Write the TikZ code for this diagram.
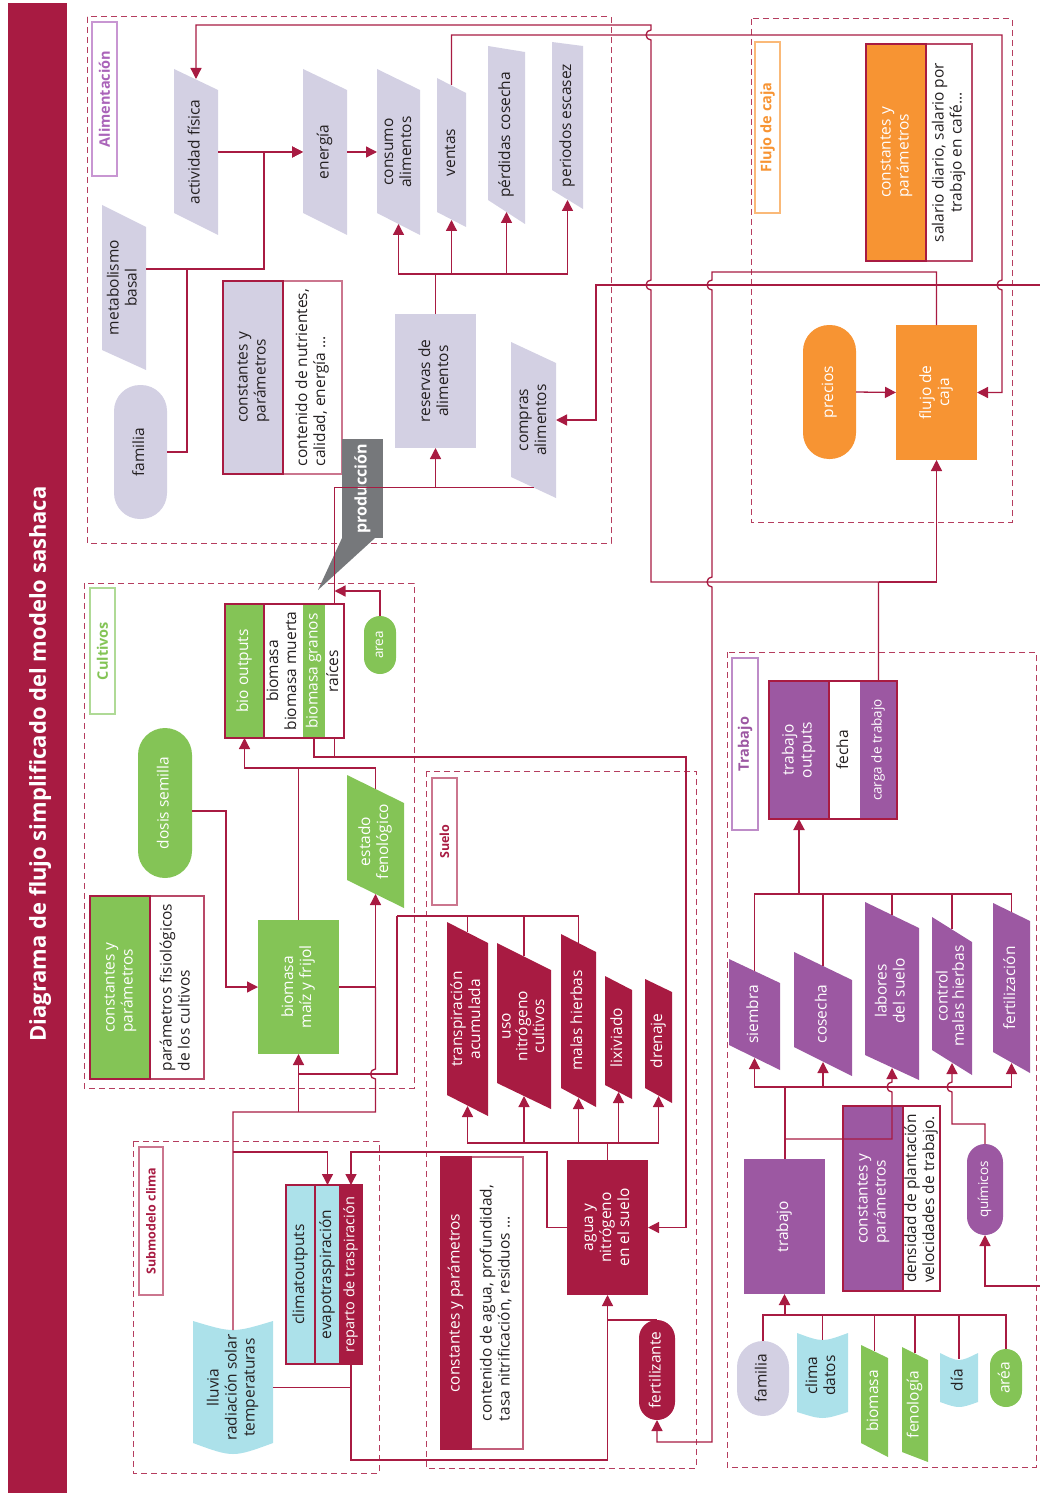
\documentclass[tikz,border=0pt]{standalone}
\usepackage{fontspec}
\setmainfont{Open Sans}
\usepackage{graphicx}
\usetikzlibrary{arrows.meta}
\definecolor{crimson}{RGB}{168,27,66}
\definecolor{lav}{RGB}{211,208,227}
\definecolor{grn}{RGB}{132,196,86}
\definecolor{lblue}{RGB}{172,225,234}
\definecolor{orng}{RGB}{247,148,51}
\definecolor{purp}{RGB}{156,88,162}
\definecolor{callgray}{RGB}{118,120,123}
\definecolor{ink}{RGB}{35,31,32}
\definecolor{alimline}{RGB}{200,150,210}
\definecolor{alimtext}{RGB}{170,100,185}
\definecolor{cultline}{RGB}{175,218,150}
\definecolor{flujline}{RGB}{250,185,120}
\definecolor{trabline}{RGB}{190,140,200}

\newcommand{\vtext}[1]{\rotatebox{90}{\begin{tabular}{@{}c@{}}#1\end{tabular}}}
\newcommand{\vtextl}[1]{\rotatebox{90}{\begin{tabular}{@{}l@{}}#1\end{tabular}}}

\tikzset{
  base/.style={inner sep=0pt, outer sep=0pt, text=ink, font=\fontsize{15.5}{18}\selectfont},
  box/.style={base, rectangle},
  para/.style n args={3}{base, rectangle, path picture={
    \fill[#1] (path picture bounding box.north west)
      -- ([yshift=-#2pt]path picture bounding box.north east)
      -- (path picture bounding box.south east)
      -- ([yshift=#3pt]path picture bounding box.south west) -- cycle;}},
  doc/.style n args={3}{base, rectangle, path picture={
    \fill[#1] (path picture bounding box.north west)
      .. controls ([yshift={-#2pt*4/3}]path picture bounding box.north) .. (path picture bounding box.north east)
      -- ([yshift=#3pt]path picture bounding box.south east)
      .. controls ([yshift={-#3pt/3}]path picture bounding box.south) .. ([yshift=#3pt]path picture bounding box.south west)
      -- cycle;}},
  tag/.style 2 args={base, draw=#1, text=#2, line width=1.2pt, font=\fontsize{14.5}{17}\selectfont\bfseries},
  dashbox/.style={draw=crimson!85, line width=1pt, dash pattern=on 6pt off 4pt},
  small/.style={font=\fontsize{13.5}{16}\selectfont}
}

\begin{document}
\begin{tikzpicture}[x=1pt, y=-1pt, >={Triangle[length=11pt,width=11pt]}, line width=1.3pt, draw=crimson]
  \useasboundingbox (0,0) rectangle (1040,1495);

  % Title bar
  \node[box, fill=crimson, minimum width=59pt, minimum height=1490pt] (bar) at (37.5,748) {};
  \node[base, text=white, font=\fontsize{22}{26}\selectfont\bfseries] (title) at (40,764)
    {\rotatebox{90}{Diagrama de flujo simplificado del modelo sashaca}};

  % Dashed frames of the submodels
  \draw[dashbox] (87,17) rectangle (611,543);
  \draw[dashbox] (84,583) rectangle (414,1088);
  \draw[dashbox] (751,19) rectangle (1012,522);
  \draw[dashbox] (426,771) rectangle (696,1468);
  \draw[dashbox] (133,1141) rectangle (379,1473);
  \draw[dashbox] (727,652) rectangle (1036,1467);

  % Frame labels
  \node[tag={alimline}{alimtext}, minimum width=25pt, minimum height=154pt] (tagAlim) at (104.5,99) {\rotatebox{90}{Alimentación}};
  \node[tag={cultline}{grn}, minimum width=25pt, minimum height=126pt] (tagCult) at (102.5,651) {\rotatebox{90}{Cultivos}};
  \node[tag={flujline}{orng}, minimum width=25pt, minimum height=171pt] (tagFluj) at (767.5,127.5) {\rotatebox{90}{Flujo de caja}};
  \node[tag={crimson!60}{crimson}, minimum width=25pt, minimum height=127pt, font=\fontsize{12.5}{15}\selectfont\bfseries] (tagSuelo) at (444.5,841.5) {\rotatebox{90}{Suelo}};
  \node[tag={crimson!60}{crimson}, minimum width=24pt, minimum height=148pt, font=\fontsize{12.5}{15}\selectfont\bfseries] (tagClima) at (151,1221) {\rotatebox{90}{Submodelo clima}};
  \node[tag={trabline}{purp}, minimum width=26pt, minimum height=172pt] (tagTrab) at (745,744) {\rotatebox{90}{Trabajo}};

  % Alimentacion
  \node[para={lav}{21}{22}, minimum width=44pt, minimum height=166pt] (act) at (196,152) {\vtext{actividad física}};
  \node[para={lav}{21}{22}, minimum width=44pt, minimum height=166pt] (ener) at (325,152) {\vtext{energía}};
  \node[para={lav}{21}{22}, minimum width=43pt, minimum height=166pt] (cons) at (398.5,152) {\vtext{consumo\\alimentos}};
  \node[para={lav}{15}{15}, minimum width=29pt, minimum height=149pt] (vent) at (451.5,152.5) {\vtext{ventas}};
  \node[para={lav}{6}{24}, minimum width=37pt, minimum height=178pt] (perd) at (506.5,135) {\vtext{pérdidas cosecha}};
  \node[para={lav}{4}{19}, minimum width=31pt, minimum height=167pt] (peri) at (567.5,125.5) {\vtext{periodos escasez}};
  \node[para={lav}{22}{20}, minimum width=44pt, minimum height=165pt] (metab) at (124,287.5) {\vtext{metabolismo\\basal}};
  \node[box, fill=lav, rounded corners=26pt, minimum width=53pt, minimum height=134pt] (fam1) at (140.5,452) {\vtext{familia}};
  \node[box, fill=white, draw=crimson!60, line width=1.3pt, minimum width=59pt, minimum height=193pt] (cp1b) at (312.5,377.5) {\vtextl{contenido de nutrientes,\\calidad, energía ...}};
  \node[box, fill=lav, draw=crimson, line width=1.5pt, minimum width=60pt, minimum height=193pt] (cp1) at (253,377.5) {\vtextl{constantes y\\parámetros}};
  \node[box, fill=lav, minimum width=81pt, minimum height=134pt] (res) at (435.5,381) {\vtext{reservas de\\alimentos}};
  \node[para={lav}{21}{21}, minimum width=45pt, minimum height=156pt] (comp) at (533.5,420) {\vtext{compras\\alimentos}};

  % Flujo de caja
  \node[box, fill=white, draw=crimson!80, line width=1.3pt, minimum width=46pt, minimum height=217pt] (cp2b) at (949,152.5) {\vtext{salario diario, salario por\\trabajo en café...}};
  \node[box, fill=orng, draw=crimson, line width=1.5pt, text=white, minimum width=60pt, minimum height=217pt] (cp2) at (896,152.5) {\vtextl{constantes y\\parámetros}};
  \node[box, fill=orng, text=white, rounded corners=26pt, minimum width=53pt, minimum height=134pt] (prec) at (829.5,392) {\vtext{precios}};
  \node[box, fill=orng, text=white, minimum width=81pt, minimum height=135pt] (fluj) at (936.5,392.5) {\vtext{flujo de\\caja}};

  % Cultivos
  \node[box, fill=grn, text=white, minimum width=39pt, minimum height=134pt] (bo1) at (244.5,671) {\vtext{bio outputs}};
  \node[box, fill=white, minimum width=39pt, minimum height=134pt] (bo2) at (283.5,671) {\vtext{biomasa\\biomasa muerta}};
  \node[box, fill=grn, text=white, minimum width=22pt, minimum height=134pt] (bo3) at (314,671) {\vtext{biomasa granos}};
  \node[box, fill=white, minimum width=19pt, minimum height=134pt] (bo4) at (334.5,671) {\vtext{raíces}};
  \draw[line width=1.5pt] (bo1.north west) rectangle (bo4.south east);
  \draw[line width=1.5pt] (bo1.north west) rectangle (bo1.south east);
  \node[box, fill=grn, text=white, small, rounded corners=16pt, minimum width=32pt, minimum height=58pt] (area) at (380,645) {\vtext{area}};
  \node[box, fill=grn, text=white, rounded corners=27pt, minimum width=54pt, minimum height=150pt] (dosis) at (165,803) {\vtext{dosis semilla}};
  \node[para={grn}{28}{28}, text=white, minimum width=57pt, minimum height=133pt] (estado) at (375.5,841.5) {\vtext{estado\\fenológico}};
  \node[box, fill=grn, text=white, minimum width=81pt, minimum height=134pt] (biom) at (298.5,987) {\vtext{biomasa\\maíz y frijol}};
  \node[box, fill=white, draw=crimson!80, line width=1.3pt, minimum width=54pt, minimum height=183pt] (cp3b) at (177,987.5) {\vtextl{parámetros fisiológicos\\de los cultivos}};
  \node[box, fill=grn, draw=crimson, line width=1.5pt, text=white, minimum width=60pt, minimum height=183pt] (cp3) at (120,987.5) {\vtextl{constantes y\\parámetros}};

  % Produccion callout
  \node[box, fill=callgray, text=white, font=\fontsize{16}{19}\selectfont\bfseries, minimum width=41pt, minimum height=99pt] (prod) at (362.5,488.5) {\rotatebox{90}{producción}};
  \coordinate (prodtip) at (318,590);
  \fill[callgray] (prod.south west) -- ([xshift=33pt]prod.south west) -- (prodtip) -- cycle;

  % Suelo
  \node[para={crimson}{21}{21}, text=white, minimum width=41pt, minimum height=194pt] (trans) at (467.5,1019) {\vtext{transpiración\\acumulada}};
  \node[para={crimson}{27}{26}, text=white, font=\fontsize{15.5}{16.5}\selectfont, minimum width=54pt, minimum height=166pt] (uso) at (524,1026) {\vtext{uso\\nitrógeno\\cultivos}};
  \node[para={crimson}{18}{19}, text=white, minimum width=35pt, minimum height=173pt] (malas) at (578.5,1020.5) {\vtext{malas hierbas}};
  \node[para={crimson}{14}{14}, text=white, minimum width=27pt, minimum height=123pt] (lixi) at (618.5,1037.5) {\vtext{lixiviado}};
  \node[para={crimson}{13}{15}, text=white, minimum width=27pt, minimum height=124pt] (dren) at (658.5,1041) {\vtext{drenaje}};
  \node[box, fill=crimson, text=white, minimum width=81pt, minimum height=135pt] (agua) at (607.5,1227.5) {\vtext{agua y\\nitrógeno\\en el suelo}};
  \node[box, fill=white, draw=crimson!70, line width=1.3pt, minimum width=52pt, minimum height=292pt] (cp4b) at (497,1303) {\vtextl{contenido de agua, profundidad,\\tasa nitrificación, residuos ...}};
  \node[box, fill=crimson, draw=crimson, line width=1.5pt, text=white, minimum width=30pt, minimum height=292pt] (cp4) at (456,1303) {\vtext{constantes y parámetros}};
  \node[box, fill=crimson, text=white, rounded corners=18pt, minimum width=36pt, minimum height=100pt] (fert) at (657,1370) {\vtext{fertilizante}};

  % Submodelo clima
  \node[box, fill=lblue, draw=crimson, line width=1.5pt, minimum width=29pt, minimum height=179pt] (co1) at (300.5,1274.5) {\vtext{climatoutputs}};
  \node[box, fill=lblue, draw=crimson, line width=1.5pt, minimum width=25pt, minimum height=179pt] (co2) at (327.5,1274.5) {\vtext{evapotraspiración}};
  \node[box, fill=crimson, draw=crimson, line width=1.5pt, text=white, font=\fontsize{14.5}{17}\selectfont, minimum width=22pt, minimum height=179pt] (co3) at (351,1274.5) {\vtext{reparto de traspiración}};
  \node[doc={lblue}{9}{11}, minimum width=80pt, minimum height=133pt] (lluv) at (233,1387.5) {\vtext{lluvia\\radiación solar\\temperaturas}};

  % Trabajo
  \node[box, fill=purp, text=white, minimum width=60pt, minimum height=138pt] (to1) at (799,750) {\vtext{trabajo\\outputs}};
  \node[box, fill=white, minimum width=31pt, minimum height=138pt] (to2) at (844.5,750) {\vtext{fecha}};
  \node[box, fill=purp, text=white, small, minimum width=37pt, minimum height=138pt] (to3) at (878.5,750) {\vtext{carga de trabajo}};
  \draw[line width=1.5pt] (to1.north west) rectangle (to3.south east);
  \draw[line width=1.5pt] (to1.north west) rectangle (to1.south east);
  \node[para={purp}{24}{25}, text=white, minimum width=51pt, minimum height=111pt] (siem) at (754.5,1014.5) {\vtext{siembra}};
  \node[para={purp}{28}{29}, text=white, minimum width=58pt, minimum height=124pt] (cose) at (823,1014) {\vtext{cosecha}};
  \node[para={purp}{26}{25}, text=white, minimum width=54pt, minimum height=178pt] (labo) at (892,991) {\vtext{labores\\del suelo}};
  \node[para={purp}{25}{25}, text=white, font=\fontsize{15.5}{15}\selectfont, minimum width=40pt, minimum height=158pt] (ctrl) at (952,996) {\vtext{control\\malas hierbas}};
  \node[para={purp}{18}{21}, text=white, minimum width=37pt, minimum height=170pt] (ferz) at (1011.5,988) {\vtext{fertilización}};
  \node[box, fill=purp, text=white, minimum width=81pt, minimum height=135pt] (trab) at (784.5,1226.5) {\vtext{trabajo}};
  \node[box, fill=white, draw=crimson, line width=1.3pt, minimum width=37pt, minimum height=185pt] (cp5b) at (921.5,1198.5) {\vtextl{densidad de plantación\\velocidades de trabajo.}};
  \node[box, fill=purp, draw=crimson, line width=1.5pt, text=white, minimum width=60pt, minimum height=185pt] (cp5) at (873,1198.5) {\vtextl{constantes y\\parámetros}};
  \node[box, fill=purp, text=white, small, rounded corners=18pt, minimum width=36pt, minimum height=91pt] (quim) at (985,1189.5) {\vtext{químicos}};
  \node[box, fill=lav, rounded corners=26pt, minimum width=52pt, minimum height=75pt] (fam2) at (763,1378.5) {\vtext{familia}};
  \node[doc={lblue}{7}{6}, minimum width=51pt, minimum height=85pt] (clim) at (822.5,1375.5) {\vtext{clima\\datos}};
  \node[para={grn}{13}{14}, text=white, minimum width=27pt, minimum height=112pt] (bmas) at (874.5,1401) {\vtext{biomasa}};
  \node[para={grn}{13}{10}, text=white, minimum width=26pt, minimum height=115pt] (feno) at (915,1404.5) {\vtext{fenología}};
  \node[doc={lblue}{7}{5}, minimum width=38pt, minimum height=54pt] (dia) at (959,1380) {\vtext{día}};
  \node[box, fill=grn, text=white, rounded corners=16pt, minimum width=32pt, minimum height=58pt] (arae) at (1006,1378) {\vtext{aréa}};

  % Connectors: alimentacion
  \draw[->] (act.east) -- (ener.west);
  \draw[->] (metab.east |- 0,269) -| (264,152) -- (ener.west);
  \draw (fam1.east) -| (187,269);
  \draw[->] (ener.east) -- (cons.west);
  \coordinate (jres) at (435.5,274);
  \draw (res.north) -- (jres);
  \draw[->] (jres) -| ([yshift=11pt]cons.south);
  \draw[->] (jres) -| ([yshift=7pt]vent.south);
  \draw[->] (jres) -| ([yshift=12pt]perd.south);
  \draw[->] (jres) -| ([yshift=9pt]peri.south);
  \coordinate (jprod) at (435.5,487.5);
  \draw[->] (bo4.north) |- (jprod) -- (res.south);
  \draw ([yshift=10.5pt]comp.south) -- (jprod);
  \draw[->] (area.north) |- (bo4.north |- 0,591);

  % Connectors: carga de trabajo, ventas, flujo de caja
  \coordinate (jcarga) at (878.5,582);
  \draw[->] (to3.north) -- (jcarga) -- (651,582) -- (651,290)
    arc[start angle=270, end angle=90, radius=5pt] -- (651,40)
    arc[start angle=270, end angle=90, radius=5pt] -- (651,25) -| ([yshift=-10pt]act.north);
  \draw[->] (jcarga) -| (fluj.south);
  \draw[->] ([yshift=-7pt]vent.north) |- (1002,35) -- (1002,280)
    arc[start angle=90, end angle=270, radius=5pt] |- (fluj.east);
  \coordinate (edgeA) at (1040,285);
  \draw[->] (edgeA) -| (596,420) -- (comp.east);
  \draw[->] (prec.east) -- (fluj.west);
  \draw[->] (fluj.north) |- (712,272) -- (712,280)
    arc[start angle=90, end angle=270, radius=5pt] -- (712,577)
    arc[start angle=90, end angle=270, radius=5pt] |- (657,1442) -- (fert.south);

  % Connectors: cultivos
  \draw[->] (dosis.east |- 0,811) -| (226,987) -- (biom.west);
  \coordinate (jbio) at (298.5,768);
  \draw[->] (biom.north) -- (jbio) -| (bo1.south);
  \draw ([yshift=-14pt]estado.north) |- (jbio);
  \draw[->] (biom.east) -| ([yshift=14pt]estado.south);
  \coordinate (jclim) at (233,1112);
  \draw ([yshift=-9pt]lluv.north) -- (jclim) -| (375.5,1079)
    arc[start angle=270, end angle=90, radius=5pt] -- (375.5,987);
  \draw[->] (biom.south |- jclim) -- (biom.south);
  \coordinate (jevap) at (233,1152);
  \draw[->] (jevap) -| (co2.north);

  % Connectors: suelo
  \coordinate (jsue) at (397,916);
  \draw (jsue) -| ([yshift=-10pt]trans.north);
  \draw (jsue) -| ([yshift=-13pt]uso.north);
  \draw (jsue) -| ([yshift=-9pt]malas.north);
  \draw (jsue) |- (biom.south |- 0,1074);
  \coordinate (jagua) at (607.5,1143);
  \draw (agua.north) -- (jagua);
  \draw[->] (jagua) -| ([yshift=10pt]trans.south);
  \draw[->] (jagua) -| ([yshift=13pt]uso.south);
  \draw[->] (jagua) -| ([yshift=9pt]malas.south);
  \draw[->] (jagua) -| ([yshift=7pt]lixi.south);
  \draw[->] (jagua) -| ([yshift=7pt]dren.south);
  \draw[->] (agua.west) -| (547,1152) -| (co3.north);
  \coordinate (jsoil) at (686,757);
  \draw[->] (bo3.south) |- (jsoil) |- (agua.east);
  \draw (bo4.south) -- (bo4.south |- jsoil);
  \draw (lluv.east) -- (lluv.east -| co3.south);
  \coordinate (jrain) at (607.5,1460);
  \draw[->] (co3.south) |- (jrain) -- (agua.south);
  \draw (fert.north) -- (agua.south |- fert.north);

  % Connectors: trabajo
  \coordinate (jout) at (799,894);
  \draw[->, line width=2pt] (jout) -- (to1.south);
  \draw (jout) -| ([yshift=-12pt]siem.north);
  \draw (jout) -| ([yshift=-14pt]cose.north);
  \draw (jout) -| ([yshift=-13pt]labo.north);
  \draw (jout) -| ([yshift=-12pt]ctrl.north);
  \draw (jout) -| ([yshift=-9pt]ferz.north);
  \coordinate (jtra) at (784.5,1087);
  \draw[line width=2pt] (trab.north) -- (jtra);
  \draw[->] (jtra) -| ([yshift=12pt]siem.south);
  \draw[->] (jtra) -| ([yshift=14pt]cose.south);
  \draw[->] (jtra) -| ([yshift=10pt]ferz.south);
  \draw[->] (trab.north |- 0,1139) -| (892,1092)
    arc[start angle=270, end angle=90, radius=5pt] -- ([yshift=12pt]labo.south);
  \draw[->] (quim.north) |- (952,1124) -- (952,1092)
    arc[start angle=270, end angle=90, radius=5pt] -- ([yshift=12pt]ctrl.south);
  \coordinate (edgeB) at (1040,1286);
  \draw[->] (edgeB) -| (quim.south);
  \coordinate (jin) at (784.5,1315);
  \draw[->, line width=2pt] (jin) -- (trab.south);
  \draw (jin) -| (fam2.north);
  \draw (jin) -| ([yshift=-7pt]clim.north);
  \draw (jin) -| ([yshift=-6pt]bmas.north);
  \draw (jin) -| ([yshift=-6pt]feno.north);
  \draw (jin) -| ([yshift=-6pt]dia.north);
  \draw (jin) -| (arae.north);
\end{tikzpicture}
\end{document}
